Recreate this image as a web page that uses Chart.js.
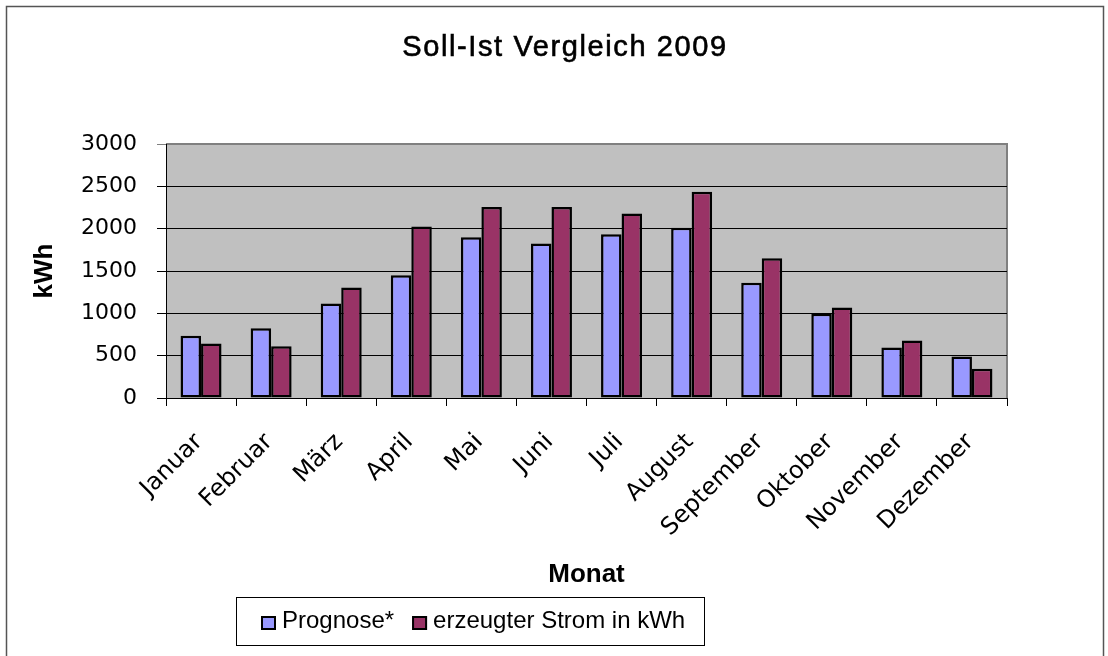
<!DOCTYPE html>
<html lang="de">
<head>
<meta charset="utf-8">
<title>Soll-Ist Vergleich 2009</title>
<script src="https://cdn.jsdelivr.net/npm/chart.js@4.4.1/dist/chart.umd.min.js"></script>
<style>
  html, body { margin: 0; padding: 0; background: #fff; }
  canvas { display: block; }
</style>
</head>
<body>
<canvas id="chart" width="1108" height="656"></canvas>
<script>
const chartTitle = 'Soll-Ist Vergleich 2009';
const months = ['Januar', 'Februar', 'März', 'April', 'Mai', 'Juni', 'Juli',
                'August', 'September', 'Oktober', 'November', 'Dezember'];
const prognose = [735, 825, 1115, 1450, 1900, 1825, 1935, 2010, 1360, 995, 595, 490];
const erzeugt = [645, 610, 1305, 2025, 2255, 2255, 2180, 2435, 1650, 1070, 680, 345];
const yMax = 3000;
const yStep = 500;

Chart.defaults.font.family = '"Liberation Sans", Arial, sans-serif';
Chart.defaults.color = '#000';

// frame, grey plot area, title and the boxed legend
const decor = {
    id: 'decor',
    beforeDraw(chart) {
        const { ctx, chartArea: a } = chart;
        ctx.save();
        ctx.fillStyle = '#fff';
        ctx.fillRect(0, 0, chart.width, chart.height);
        ctx.strokeStyle = '#555';
        ctx.lineWidth = 1.5;
        ctx.strokeRect(6.5, 6.5, 1097, 700);

        ctx.fillStyle = '#c0c0c0';
        ctx.fillRect(a.left, a.top, a.width, a.height);
        ctx.strokeStyle = '#808080';
        ctx.lineWidth = 2;
        ctx.beginPath();
        ctx.moveTo(a.left, a.top);
        ctx.lineTo(a.right, a.top);
        ctx.lineTo(a.right, a.bottom);
        ctx.stroke();

        ctx.fillStyle = '#000';
        ctx.strokeStyle = '#000';
        ctx.lineWidth = 0.6;
        ctx.font = '29px "Liberation Sans"';
        ctx.letterSpacing = '1.6px';
        ctx.textAlign = 'center';
        ctx.textBaseline = 'middle';
        ctx.fillText(chartTitle, 565, 48);
        ctx.strokeText(chartTitle, 565, 48);
        ctx.restore();
    },
    afterDraw(chart) {
        const { ctx } = chart;
        ctx.save();
        ctx.strokeStyle = '#000';
        ctx.lineWidth = 1;
        ctx.strokeRect(236.5, 597.5, 468, 48);

        ctx.font = '24px "Liberation Sans"';
        ctx.textAlign = 'left';
        ctx.textBaseline = 'middle';
        let x = 261;
        chart.data.datasets.forEach(ds => {
            ctx.fillStyle = ds.backgroundColor;
            ctx.fillRect(x, 616, 15, 14);
            ctx.lineWidth = 2;
            ctx.strokeStyle = '#000';
            ctx.strokeRect(x + 1, 617, 13, 12);
            ctx.fillStyle = '#000';
            ctx.fillText(ds.label, x + 21, 621);
            x += 21 + ctx.measureText(ds.label).width + 18;
        });
        ctx.restore();
    }
};

new Chart(document.getElementById('chart'), {
    type: 'bar',
    data: {
        labels: months,
        datasets: [
            {
                label: 'Prognose*',
                data: prognose,
                backgroundColor: '#9999ff',
                borderColor: '#000',
                borderWidth: 2.5,
                borderSkipped: false,
                categoryPercentage: 0.585,
                barPercentage: 1.0
            },
            {
                label: 'erzeugter Strom in kWh',
                data: erzeugt,
                backgroundColor: '#993366',
                borderColor: '#000',
                borderWidth: 2.5,
                borderSkipped: false,
                categoryPercentage: 0.585,
                barPercentage: 1.0
            }
        ]
    },
    options: {
        responsive: false,
        devicePixelRatio: 1,
        animation: false,
        layout: { padding: { top: 144, right: 101, bottom: 66, left: 0 } },
        plugins: {
            legend: { display: false },
            title: { display: false },
            tooltip: { enabled: false }
        },
        scales: {
            x: {
                grid: { offset: true, drawOnChartArea: false, color: '#000', tickLength: 8 },
                border: { color: '#000', width: 1 },
                ticks: {
                    autoSkip: false,
                    maxRotation: 45,
                    minRotation: 45,
                    padding: 22,
                    labelOffset: -2,
                    font: { family: '"DejaVu Sans"', size: 24 }
                },
                title: {
                    display: true,
                    text: 'Monat',
                    font: { size: 26, weight: 'bold' },
                    padding: { top: 0, bottom: 0 }
                },
                afterFit(scale) { scale.height = 192; }
            },
            y: {
                min: 0,
                max: yMax,
                ticks: {
                    stepSize: yStep,
                    padding: 20,
                    callback: v => String(v),
                    font: { family: '"DejaVu Sans"', size: 22 }
                },
                grid: {
                    color: c => (c.tick && c.tick.value === yMax ? '#808080' : '#000'),
                    tickLength: 9
                },
                border: { color: '#000', width: 1 },
                title: {
                    display: true,
                    text: 'kWh',
                    font: { size: 26, weight: 'bold' },
                    padding: { top: 29, bottom: 0 }
                },
                afterFit(scale) { scale.width = 166; }
            }
        }
    },
    plugins: [decor]
});
</script>
</body>
</html>
